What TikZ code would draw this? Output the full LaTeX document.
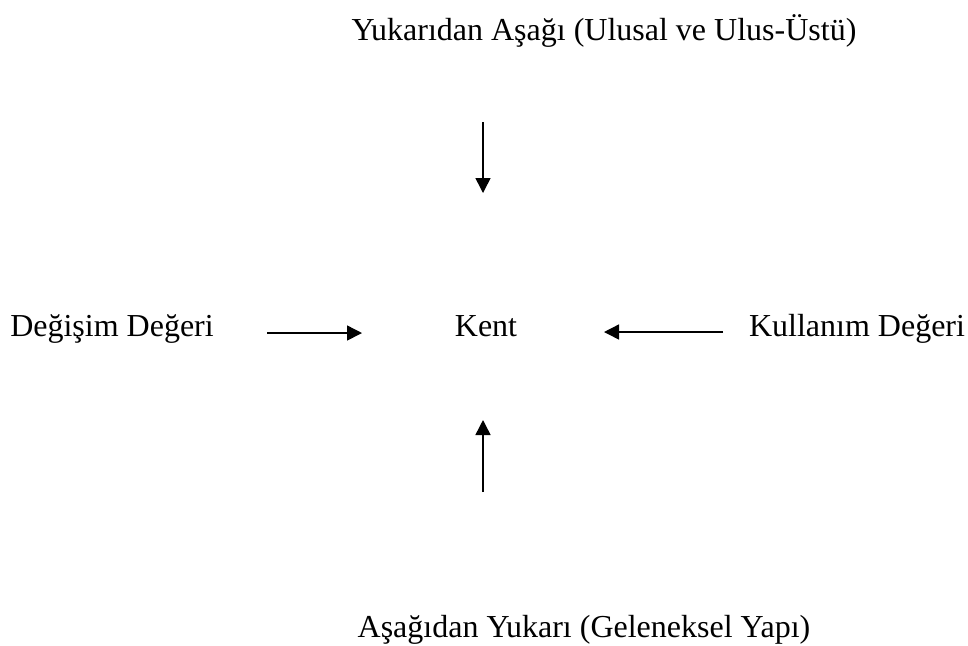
\documentclass[tikz,border=0pt]{standalone}
\usepackage{fontspec}
\setmainfont{Liberation Serif}
\usetikzlibrary{arrows.meta}

\begin{document}
\begin{tikzpicture}[x=0.5pt, y=-0.5pt,
  label/.style={anchor=base, inner sep=0pt, font=\fontsize{16}{19}\selectfont},
  flow/.style={-{Triangle[length=7.5pt, width=7.5pt]}, line width=0.75pt}]

\useasboundingbox (0, 0) rectangle (968, 645);

\node (Top) at (604, 40) [label] {Yukarıdan Aşağı (Ulusal ve Ulus-Üstü)};
\node (Left) at (112, 336) [label] {Değişim Değeri};
\node (Kent) at (486, 336) [label] {Kent};
\node (Right) at (857, 336) [label] {Kullanım Değeri};
\node (Bottom) at (584, 637) [label] {Aşağıdan Yukarı (Geleneksel Yapı)};

\coordinate (T1) at (483, 122);
\coordinate (T2) at (483, 193);
\coordinate (L1) at (267, 333);
\coordinate (L2) at (362, 333);
\coordinate (R1) at (723, 332);
\coordinate (R2) at (604, 332);
\coordinate (B1) at (483, 492);
\coordinate (B2) at (483, 420);

\path[flow] (T1) edge (T2);
\path[flow] (L1) edge (L2);
\path[flow] (R1) edge (R2);
\path[flow] (B1) edge (B2);
\end{tikzpicture}
\end{document}
